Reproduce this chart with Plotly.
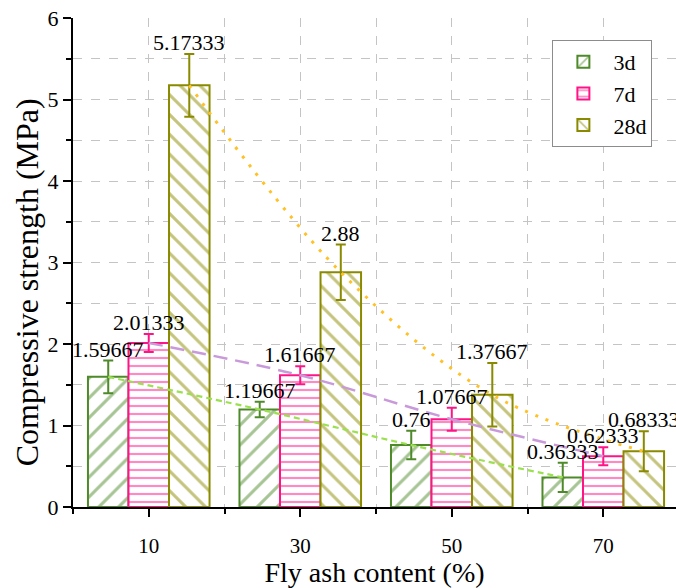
import plotly.graph_objects as go

# ---- data ----
fly_ash = [10, 30, 50, 70]
series_names = ["3d", "7d", "28d"]
strength_3d = [1.59667, 1.19667, 0.76, 0.36333]
strength_7d = [2.01333, 1.61667, 1.07667, 0.62333]
strength_28d = [5.17333, 2.88, 1.37667, 0.68333]
err_3d = [0.20, 0.095, 0.175, 0.18]
err_7d = [0.11, 0.11, 0.14, 0.11]
err_28d = [0.385, 0.34, 0.39, 0.245]
value_labels_3d = ["1.59667", "1.19667", "0.76", "0.36333"]
value_labels_7d = ["2.01333", "1.61667", "1.07667", "0.62333"]
value_labels_28d = ["5.17333", "2.88", "1.37667", "0.68333"]
x_title = "Fly ash content (%)"
y_title = "Compressive strength (MPa)"

values = [strength_3d, strength_7d, strength_28d]
errors = [err_3d, err_7d, err_28d]
labels = [value_labels_3d, value_labels_7d, value_labels_28d]

# ---- style ----
FONT = "Times New Roman, Liberation Serif, serif"
bar_colors = ["#4E8A2A", "#FF1487", "#8A8A00"]
patterns = ["/", "-", "\\"]
pattern_sizes = [14, 8, 14]
pattern_solid = [0.22, 0.27, 0.22]
trend_colors = ["#9BE04E", "#C99ADA", "#FFC125"]
trend_dash = ["6px,4px", "14px,8px", "3px,8px"]
trend_width = [2.2, 2.5, 3]
bar_w = 5.35

fig = go.Figure()

for i, name in enumerate(series_names):
    fig.add_trace(go.Bar(
        x=fly_ash, y=values[i], name=name,
        width=bar_w, offset=(i - 1.5) * bar_w,
        marker=dict(
            color="white",
            line=dict(color=bar_colors[i], width=2),
            pattern=dict(shape=patterns[i], fgcolor=bar_colors[i], bgcolor="white",
                         size=pattern_sizes[i], solidity=pattern_solid[i], fillmode="overlay"),
        ),
        error_y=dict(type="data", array=errors[i], visible=True,
                     color=bar_colors[i], thickness=2, width=5),
    ))

for i, name in enumerate(series_names):
    xs = [c + (i - 1) * bar_w for c in fly_ash]
    fig.add_trace(go.Scatter(
        x=xs, y=values[i], mode="lines", showlegend=False,
        line=dict(color=trend_colors[i], dash=trend_dash[i], width=trend_width[i],
                  shape="spline", smoothing=1.0),
        hoverinfo="skip",
    ))
    for c, v, e, t in zip(xs, values[i], errors[i], labels[i]):
        fig.add_annotation(x=c, y=v + e, text=t, showarrow=False,
                           yanchor="bottom", xanchor="center", yshift=-3,
                           font=dict(family=FONT, size=22, color="black"))

# y-axis title as rotated text
fig.add_annotation(xref="paper", yref="paper", x=-0.076, y=0.46, text=y_title,
                   textangle=-90, showarrow=False, xanchor="center", yanchor="middle",
                   font=dict(family=FONT, size=32, color="black"))

grid = dict(showgrid=True, gridcolor="#C4C4C4", griddash="dash", gridwidth=1)

fig.update_layout(
    width=676, height=588,
    margin=dict(l=73, r=0, t=18, b=81),
    plot_bgcolor="white", paper_bgcolor="white",
    font=dict(family=FONT, size=22, color="black"),
    showlegend=True,
    legend=dict(x=0.795, y=0.955, xanchor="left", yanchor="top",
                bordercolor="#8C8C8C", borderwidth=1, bgcolor="white",
                font=dict(family=FONT, size=22), tracegroupgap=0, itemwidth=50),
    xaxis=dict(
        range=[0, 79.6], tickmode="array", tickvals=fly_ash,
        ticks="outside", ticklen=8, tickwidth=2, tickcolor="black",
        showline=True, linecolor="black", linewidth=2, zeroline=False,
        ticklabelstandoff=11, tickfont=dict(family=FONT, size=21),
        title=dict(text=x_title, font=dict(family=FONT, size=28), standoff=3),
        minor=dict(tickmode="array", tickvals=[0, 20, 40, 60], ticks="outside", ticklen=5,
                   tickwidth=2, tickcolor="black", showgrid=True, gridcolor="#C4C4C4", griddash="dash"),
        **grid,
    ),
    yaxis=dict(
        range=[0, 6], dtick=1, tick0=0,
        ticks="outside", ticklen=8, tickwidth=2, tickcolor="black",
        showline=True, linecolor="black", linewidth=2, zeroline=False,
        tickfont=dict(family=FONT, size=22),
        minor=dict(dtick=0.5, ticks="outside", ticklen=5, tickwidth=2, tickcolor="black",
                   showgrid=True, gridcolor="#C4C4C4", griddash="dash"),
        **grid,
    ),
)

fig.write_html("out.html")
